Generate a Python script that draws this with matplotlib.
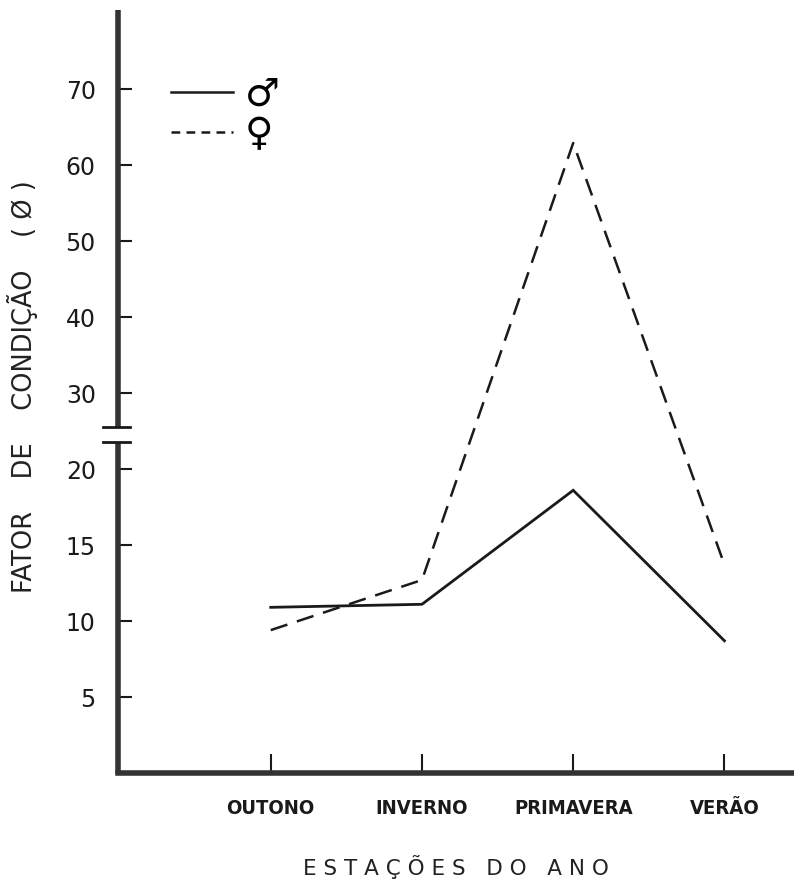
import matplotlib
matplotlib.use("Agg")
import matplotlib.pyplot as plt
import numpy as np
from matplotlib.lines import Line2D
import matplotlib.transforms as mtransforms

seasons = ["OUTONO", "INVERNO", "PRIMAVERA", "VERÃO"]
male = [10.9, 11.1, 18.6, 8.7]
female = [9.4, 12.7, 62.9, 13.7]
yticks = [5, 10, 15, 20, 30, 40, 50, 60, 70]
BREAK = 20.0

def fwd(v):
    v = np.asarray(v, dtype=float)
    return np.where(v <= BREAK, v, BREAK + (v - BREAK) / 2.0)

def inv(t):
    t = np.asarray(t, dtype=float)
    return np.where(t <= BREAK, t, BREAK + (t - BREAK) * 2.0)

fig = plt.figure(figsize=(7.94, 8.88), dpi=100)
ax = fig.add_axes([118/794, 1 - 773/888, 1 - 118/794, (773 - 10)/888])
ax.set_yscale("function", functions=(fwd, inv))

x = np.arange(len(seasons))
ax.plot(x, male, color="#1a1a1a", lw=2.0, solid_joinstyle="miter")
ax.plot(x, female, color="#1a1a1a", lw=1.8, dashes=(7, 4))

ax.set_xlim(-1.01, 3.46)
ax.set_ylim(0, 80.4)

ax.set_xticks(x)
ax.set_xticklabels(seasons, fontsize=14.5, fontweight="bold", fontstretch="condensed")
ax.set_yticks(yticks)
ax.set_yticklabels([str(t) for t in yticks], fontsize=17)
ax.tick_params(axis="x", direction="in", length=14, width=1.5, pad=19, colors="#1a1a1a")
ax.tick_params(axis="y", direction="in", length=10, width=1.5, pad=16, colors="#1a1a1a")
ax.yaxis.set_minor_locator(matplotlib.ticker.NullLocator())

for s in ["top", "right", "left"]:
    ax.spines[s].set_visible(False)
ax.spines["bottom"].set_linewidth(4)
ax.spines["bottom"].set_color("#333333")

# y axis with break
tr = mtransforms.blended_transform_factory(ax.transAxes, ax.transData)
lo, hi = 23.6, 25.5
ax.plot([0, 0], [0, lo], transform=tr, color="#333333", lw=4, clip_on=False, solid_capstyle="butt")
ax.plot([0, 0], [hi, 80.4], transform=tr, color="#333333", lw=4, clip_on=False, solid_capstyle="butt")
for yb in (lo, hi):
    ax.plot([-0.022, 0.018], [yb, yb], transform=tr, color="#1a1a1a", lw=2, clip_on=False)

ax.set_xlabel("E S T A Ç Õ E S   D O   A N O", fontsize=15.5, labelpad=26, color="#222222")
ax.set_ylabel("FATOR    DE    CONDIÇÃO    ( Ø )", fontsize=18.5, color="#222222")
ax.yaxis.set_label_coords(-0.118, 0.507)

handles = [Line2D([], [], color="#1a1a1a", lw=1.8),
           Line2D([], [], color="#1a1a1a", lw=1.8, dashes=(3.5, 2.5))]
leg = ax.legend(handles, ["♂", "♀"], loc="upper left", bbox_to_anchor=(0.027, 0.96),
                frameon=False, fontsize=28, handlelength=1.6, handletextpad=0.3,
                labelspacing=0.05)

fig.savefig("out.png", dpi=100)
